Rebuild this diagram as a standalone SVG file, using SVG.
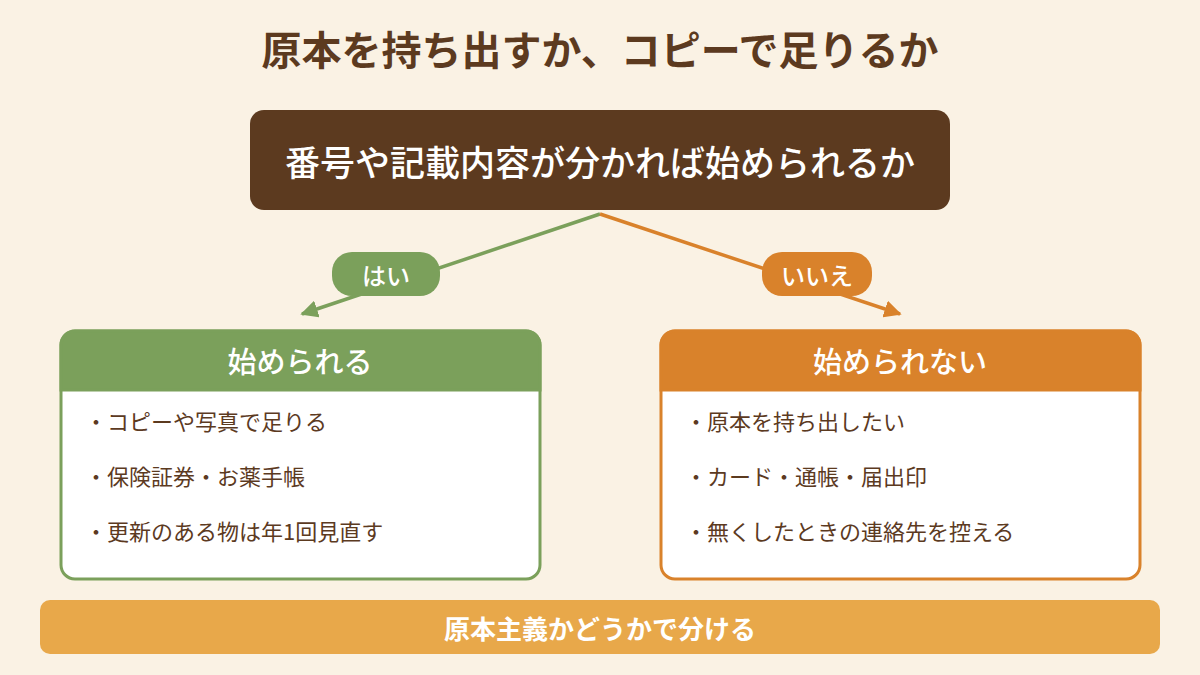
<svg xmlns="http://www.w3.org/2000/svg" width="1200" height="675" viewBox="0 0 1200 675">
<defs>
<style>
text{font-family:"Noto Sans CJK JP","Noto Sans",sans-serif;text-anchor:middle;dominant-baseline:central}
.w{fill:#FFFFFF}
.item{fill:#5C3A1F;font-size:22px;text-anchor:start}
</style>
<marker id="ag" viewBox="0 0 10 10" refX="9" refY="5" markerWidth="5" markerHeight="5" orient="auto" markerUnits="strokeWidth"><path d="M0,0 L10,5 L0,10 z" fill="#7BA05B"/></marker>
<marker id="ao" viewBox="0 0 10 10" refX="9" refY="5" markerWidth="5" markerHeight="5" orient="auto" markerUnits="strokeWidth"><path d="M0,0 L10,5 L0,10 z" fill="#D9822B"/></marker>
</defs>
<rect width="1200" height="675" fill="#FAF2E4"/>
<text x="600" y="48" font-size="40" font-weight="bold" fill="#5C3A1F">原本を持ち出すか、コピーで足りるか</text>
<g id="connectors">
<line x1="600" y1="214" x2="302" y2="314" stroke="#7BA05B" stroke-width="3.5" marker-end="url(#ag)"/>
<line x1="600" y1="214" x2="900" y2="314" stroke="#D9822B" stroke-width="3.5" marker-end="url(#ao)"/>
</g>
<g id="question">
<rect x="250" y="110" width="700" height="100" rx="14" fill="#5C3A1F"/>
<text x="600" y="160" font-size="35" font-weight="500" class="w">番号や記載内容が分かれば始められるか</text>
</g>
<g id="label-yes">
<rect x="332" y="252" width="108" height="44" rx="20" fill="#7BA05B"/>
<text x="386" y="274" font-size="24" font-weight="500" class="w">はい</text>
</g>
<g id="label-no">
<rect x="762" y="252" width="110" height="44" rx="20" fill="#D9822B"/>
<text x="817" y="274" font-size="24" font-weight="500" class="w">いいえ</text>
</g>
<g id="box-yes">
<rect x="61" y="331" width="479" height="248" rx="14" fill="#FFFFFF" stroke="#7BA05B" stroke-width="3"/>
<path d="M61,390 V345 A14,14 0 0 1 75,331 H526 A14,14 0 0 1 540,345 V390 Z" fill="#7BA05B" stroke="#7BA05B" stroke-width="3"/>
<text x="300" y="360" font-size="29" font-weight="500" class="w">始められる</text>
<text x="85" y="420" class="item">・コピーや写真で足りる</text>
<text x="85" y="475" class="item">・保険証券・お薬手帳</text>
<text x="85" y="530" class="item">・更新のある物は年1回見直す</text>
</g>
<g id="box-no">
<rect x="661" y="331" width="479" height="248" rx="14" fill="#FFFFFF" stroke="#D9822B" stroke-width="3"/>
<path d="M661,390 V345 A14,14 0 0 1 675,331 H1126 A14,14 0 0 1 1140,345 V390 Z" fill="#D9822B" stroke="#D9822B" stroke-width="3"/>
<text x="900" y="360" font-size="29" font-weight="500" class="w">始められない</text>
<text x="685" y="420" class="item">・原本を持ち出したい</text>
<text x="685" y="475" class="item">・カード・通帳・届出印</text>
<text x="685" y="530" class="item">・無くしたときの連絡先を控える</text>
</g>
<g id="footer">
<rect x="40" y="600" width="1120" height="54" rx="10" fill="#E8A84A"/>
<text x="600" y="627" font-size="26" font-weight="bold" class="w">原本主義かどうかで分ける</text>
</g>
</svg>
